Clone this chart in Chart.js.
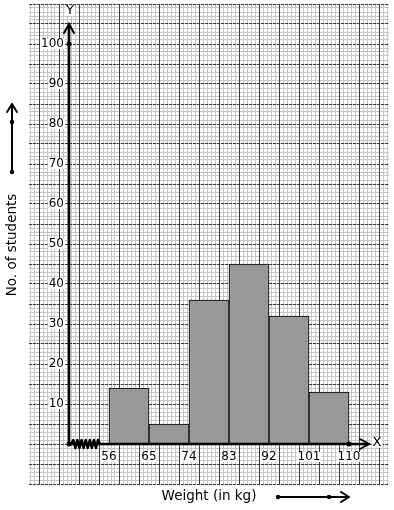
<!DOCTYPE html>
<html>
<head>
<meta charset="utf-8">
<script src="https://cdn.jsdelivr.net/npm/chart.js@4"></script>
<style>
  html, body { margin: 0; padding: 0; background: #fff; }
  #wrap { width: 394px; height: 510px; }
</style>
</head>
<body>
<div id="wrap"><canvas id="hist"></canvas></div>
<script>
// class boundaries (kg) and frequencies
const bounds = [56, 65, 74, 83, 92, 101, 110];
const students = [14, 5, 36, 45, 32, 13];
const yTicks = [10, 20, 30, 40, 50, 60, 70, 80, 90, 100];
const xTicks = [56, 65, 74, 83, 92, 101, 110];

const xOrigin = 47; // where the broken x axis starts

const points = students.map((v, i) => ({ x: (bounds[i] + bounds[i + 1]) / 2, y: v }));

const FONT = '"DejaVu Sans", sans-serif';

function dot(ctx, x, y, r) {
    ctx.beginPath();
    ctx.arc(x, y, r, 0, Math.PI * 2);
    ctx.fill();
}

function labelBox(ctx, text, x, y, align) {
    const w = ctx.measureText(text).width;
    let left = x - w / 2;
    if (align === 'right') left = x - w;
    ctx.fillStyle = '#fff';
    ctx.fillRect(left - 1, y - 5, w + 2, 10);
    ctx.fillStyle = '#000';
    ctx.textAlign = align;
    ctx.textBaseline = 'middle';
    ctx.fillText(text, x, y);
}

const axesPlugin = {
    id: 'graphAxes',
    afterDatasetsDraw(chart) {
        const ctx = chart.ctx;
        const xs = chart.scales.xBar;
        const ys = chart.scales.y;
        const px = v => xs.getPixelForValue(v);
        const py = v => ys.getPixelForValue(v);
        const x0 = px(xOrigin);
        const y0 = py(0);
        const area = chart.chartArea;

        ctx.save();
        ctx.strokeStyle = '#000';
        ctx.fillStyle = '#000';
        ctx.lineCap = 'round';

        // y axis
        ctx.lineWidth = 2.5;
        const yTip = py(105);
        ctx.beginPath();
        ctx.moveTo(x0, y0);
        ctx.lineTo(x0, yTip);
        ctx.stroke();
        ctx.lineWidth = 2;
        ctx.beginPath();
        ctx.moveTo(x0 - 5, yTip + 9);
        ctx.lineTo(x0, yTip);
        ctx.lineTo(x0 + 5, yTip + 9);
        ctx.stroke();

        // x axis
        ctx.lineWidth = 2.5;
        const xTip = px(114.5);
        ctx.beginPath();
        ctx.moveTo(x0, y0);
        ctx.lineTo(xTip, y0);
        ctx.stroke();
        ctx.lineWidth = 2;
        ctx.beginPath();
        ctx.moveTo(xTip - 9, y0 - 5);
        ctx.lineTo(xTip, y0);
        ctx.lineTo(xTip - 9, y0 + 5);
        ctx.stroke();

        // kink for the broken scale
        ctx.lineWidth = 2.5;
        ctx.lineJoin = 'round';
        const zStart = px(47.5), zEnd = px(54);
        const n = 14;
        ctx.beginPath();
        ctx.moveTo(zStart, y0);
        for (let i = 1; i <= n; i++) {
            const zx = zStart + (zEnd - zStart) * i / n;
            const zy = i === n ? y0 : y0 + (i % 2 ? -4 : 4);
            ctx.lineTo(zx, zy);
        }
        ctx.stroke();

        dot(ctx, x0, y0, 2.5);
        dot(ctx, x0, py(100), 2.5);
        dot(ctx, px(110), y0, 2.5);

        // tick labels
        ctx.font = '12px ' + FONT;
        yTicks.forEach(v => labelBox(ctx, String(v), x0 - 5, py(v), 'right'));
        xTicks.forEach(v => labelBox(ctx, String(v), px(v), y0 + 13, 'center'));

        ctx.font = '13px ' + FONT;
        labelBox(ctx, 'Y', x0 + 1, area.top + 7, 'center');
        labelBox(ctx, 'X', xTip + 8, y0 - 1, 'center');

        // titles
        ctx.font = '13.5px ' + FONT;
        ctx.fillStyle = '#000';
        ctx.textAlign = 'center';
        ctx.textBaseline = 'middle';
        ctx.fillText('Weight (in kg)', 209, area.bottom + 12);
        ctx.save();
        ctx.translate(12, 245);
        ctx.rotate(-Math.PI / 2);
        ctx.fillText('No. of students', 0, 0);
        ctx.restore();

        // direction arrows next to the titles
        ctx.lineWidth = 2;
        ctx.beginPath();
        ctx.moveTo(12, 172);
        ctx.lineTo(12, 104);
        ctx.moveTo(7, 112);
        ctx.lineTo(12, 104);
        ctx.lineTo(17, 112);
        ctx.stroke();
        dot(ctx, 12, 172, 2.2);
        dot(ctx, 12, 122, 2.2);

        const by = area.bottom + 13;
        ctx.beginPath();
        ctx.moveTo(278, by);
        ctx.lineTo(349, by);
        ctx.moveTo(341, by - 5);
        ctx.lineTo(349, by);
        ctx.lineTo(341, by + 5);
        ctx.stroke();
        dot(ctx, 278, by, 2.2);
        dot(ctx, 329, by, 2.2);

        ctx.restore();
    }
};

const gridAxis = (axis, step, color, z, dash) => ({
    type: 'linear',
    axis: axis,
    min: axis === 'x' ? 38 : -10,
    max: axis === 'x' ? 119 : 110,
    offset: false,
    ticks: { display: false, stepSize: step, autoSkip: false },
    grid: { display: color !== null, color: color || '#000', lineWidth: 1, drawTicks: false, z: z },
    border: { display: false, dash: dash }
});

new Chart(document.getElementById('hist'), {
    type: 'bar',
    data: {
        datasets: [{
            label: 'No. of students',
            data: points,
            backgroundColor: '#999999',
            borderColor: '#000',
            borderWidth: 1,
            barPercentage: 1,
            categoryPercentage: 1,
            xAxisID: 'xBar',
            yAxisID: 'y'
        }]
    },
    options: {
        responsive: true,
        maintainAspectRatio: false,
        animation: false,
        layout: { padding: { left: 29, right: 5, top: 4, bottom: 26 } },
        plugins: {
            legend: { display: false },
            tooltip: { enabled: false }
        },
        scales: {
            xMinor: gridAxis('x', 0.9, '#c6c6c6', -2, []),
            yMinor: gridAxis('y', 1, '#c6c6c6', -2, []),
            x: gridAxis('x', 4.5, '#3c3c3c', -1, []),
            y: gridAxis('y', 5, '#3c3c3c', -1, [3, 1]),
            // one tick per class width, so each bar fills its class
            xBar: gridAxis('x', 9, null, -1, [])
        }
    },
    plugins: [axesPlugin]
});
</script>
</body>
</html>
